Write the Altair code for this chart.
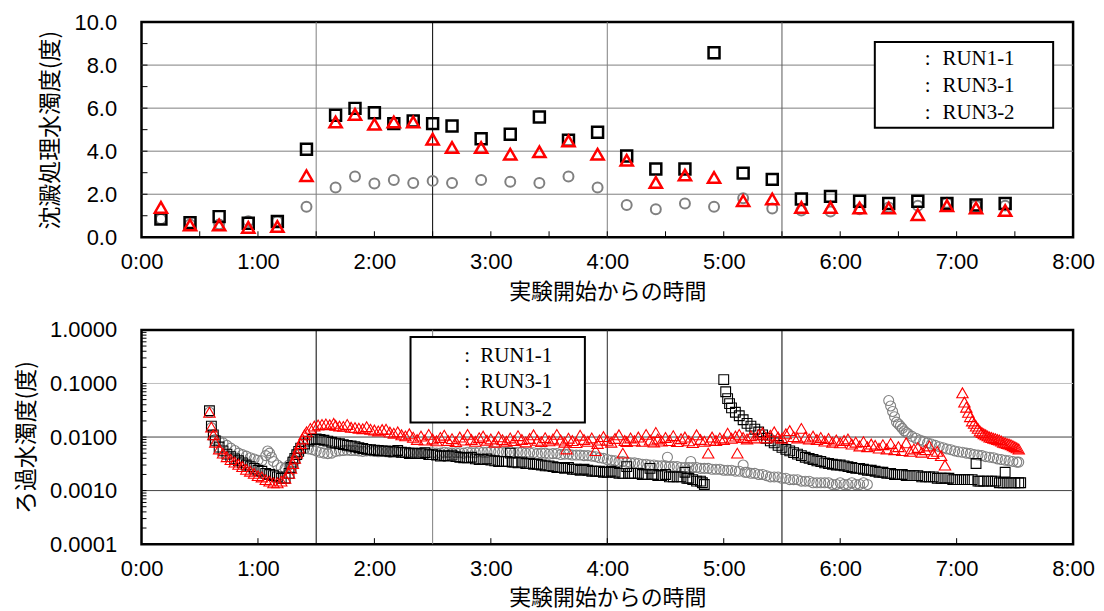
import altair as alt
import pandas as pd

# ---------------- text ----------------
series_names = ["RUN1-1", "RUN3-1", "RUN3-2"]
top_y_title = "沈澱処理水濁度(度)"
bot_y_title = "ろ過水濁度(度)"
x_title = "実験開始からの時間"
hour_ticks = [0, 60, 120, 180, 240, 300, 360, 420, 480]
hour_labels = ["0:00", "1:00", "2:00", "3:00", "4:00", "5:00", "6:00", "7:00", "8:00"]
top_y_ticks = [0, 2, 4, 6, 8, 10]
bot_y_ticks = [0.0001, 0.001, 0.01, 0.1, 1.0]

# ---------------- top chart data (minutes, turbidity) ----------------
top_time = [10, 25, 40, 55, 70, 85, 100, 110, 120, 130, 140, 150, 160, 175, 190, 205, 220, 235,
            250, 265, 280, 295, 310, 325, 340, 355, 370, 385, 400, 415, 430, 445]
top_run11 = [0.85, 0.68, 0.96, 0.65, 0.73, 4.09, 5.67, 5.99, 5.79, 5.28, 5.40, 5.28, 5.17, 4.58, 4.79, 5.59, 4.51, 4.88,
             3.78, 3.17, 3.17, 8.57, 2.98, 2.69, 1.78, 1.90, 1.67, 1.57, 1.67, 1.57, 1.50, 1.57]
top_run31 = [1.39, 0.57, 0.57, 0.46, 0.50, 2.86, 5.36, 5.71, 5.25, 5.36, 5.36, 4.56, 4.17, 4.17, 3.86, 3.97, 4.48, 3.86,
             3.58, 2.55, 2.89, 2.78, 1.70, 1.78, 1.39, 1.39, 1.36, 1.36, 1.05, 1.47, 1.36, 1.24]
top_run32 = [0.85, 0.60, 0.60, 0.75, 0.75, 1.42, 2.31, 2.82, 2.50, 2.66, 2.52, 2.62, 2.52, 2.66, 2.58, 2.52, 2.82, 2.31,
             1.50, 1.30, 1.57, 1.42, 1.81, 1.34, 1.24, 1.20, 1.30, 1.39, 1.47, 1.60, 1.47, 1.47]

# ---------------- bottom chart data (minute, turbidity) ----------------
bot_run11 = [
    (35, 0.031), (36, 0.016), (37, 0.011), (38, 0.0085), (40, 0.0065), (42, 0.0055), (44, 0.0048), (46, 0.0043),
    (48, 0.0039), (50, 0.0036), (52, 0.0033), (54, 0.0030), (56, 0.0028), (58, 0.0026), (60, 0.0024), (62, 0.0023),
    (64, 0.0021), (66, 0.0020), (68, 0.0019), (70, 0.0018), (72, 0.0017), (74, 0.0017), (76, 0.0021), (77, 0.0027),
    (78, 0.0034), (79, 0.0040), (80, 0.0047), (81, 0.0054), (82, 0.0062), (84, 0.0074), (86, 0.0084), (88, 0.0090),
    (90, 0.0092), (92, 0.0090), (94, 0.0087), (96, 0.0084), (98, 0.0080), (100, 0.0077), (102, 0.0075),
    (104, 0.0072), (106, 0.0070), (108, 0.0068), (110, 0.0066), (112, 0.0063), (114, 0.0061), (116, 0.0059),
    (118, 0.0058), (120, 0.0057), (122, 0.0056), (124, 0.0055), (126, 0.0055), (128, 0.0054), (130, 0.0053),
    (132, 0.0056), (134, 0.0052), (136, 0.0051), (138, 0.0049), (140, 0.0050), (142, 0.0049), (144, 0.0049),
    (146, 0.0051), (148, 0.0047), (150, 0.0047), (152, 0.0046), (154, 0.0044), (156, 0.0045), (158, 0.0044),
    (160, 0.0046), (162, 0.0043), (164, 0.0042), (166, 0.0041), (168, 0.0041), (170, 0.0042), (172, 0.0039),
    (174, 0.0038), (176, 0.0038), (178, 0.0039), (180, 0.0037), (182, 0.0036), (184, 0.0035), (186, 0.0035),
    (188, 0.0035), (190, 0.0050), (191, 0.0034), (192, 0.0034), (194, 0.0033), (196, 0.0034), (198, 0.0032),
    (200, 0.0032), (202, 0.0031), (204, 0.0031), (206, 0.0030), (208, 0.0029), (210, 0.0029), (212, 0.0028),
    (214, 0.0027), (216, 0.0027), (218, 0.0026), (220, 0.0027), (222, 0.0025), (224, 0.0025), (226, 0.0024),
    (228, 0.0025), (230, 0.0024), (232, 0.0023), (234, 0.0023), (236, 0.0023), (238, 0.0022), (240, 0.0022),
    (242, 0.0023), (244, 0.0022), (246, 0.0021), (248, 0.0021), (250, 0.0028), (251, 0.0021), (252, 0.0021),
    (254, 0.0021), (256, 0.0021), (258, 0.0020), (260, 0.0020), (262, 0.0026), (263, 0.0020), (264, 0.0020),
    (266, 0.0019), (268, 0.0019), (270, 0.0020), (272, 0.0018), (274, 0.0018), (276, 0.0018), (278, 0.0018),
    (280, 0.0022), (281, 0.0017), (282, 0.0017), (284, 0.0016), (286, 0.0015), (288, 0.0015), (289, 0.0014),
    (290, 0.0013),
    (300, 0.118), (301, 0.070), (302, 0.052), (303, 0.042), (304, 0.035), (306, 0.029), (308, 0.025), (310, 0.021),
    (312, 0.018), (314, 0.016), (316, 0.014), (318, 0.0124), (320, 0.011), (322, 0.0095), (324, 0.0085),
    (326, 0.0078), (328, 0.0070), (330, 0.0064), (332, 0.0059), (334, 0.0055), (336, 0.0051), (338, 0.0048),
    (340, 0.0045), (342, 0.0042), (344, 0.0040), (346, 0.0038), (348, 0.0036), (350, 0.0035), (352, 0.0033),
    (354, 0.0032), (356, 0.0031), (358, 0.0030), (360, 0.0030), (362, 0.0029), (364, 0.0028), (366, 0.0027),
    (368, 0.0026), (370, 0.0026), (372, 0.0025), (374, 0.0024), (376, 0.0024), (378, 0.0023), (380, 0.0022),
    (382, 0.0022), (384, 0.0021), (386, 0.0021), (388, 0.0020), (390, 0.0020), (392, 0.0020), (394, 0.0019),
    (396, 0.0019), (398, 0.0019), (400, 0.0019), (402, 0.0018), (404, 0.0018), (406, 0.0018), (408, 0.0018),
    (410, 0.0017), (412, 0.0017), (414, 0.0017), (416, 0.0017), (418, 0.0016), (420, 0.0016), (422, 0.0016),
    (424, 0.0016), (426, 0.0016), (428, 0.0016), (430, 0.0032), (431, 0.0015), (432, 0.0015), (434, 0.0015),
    (436, 0.0015), (438, 0.0015), (440, 0.0015), (442, 0.0014), (444, 0.0014), (445, 0.0022), (446, 0.0014),
    (448, 0.0014), (450, 0.0014), (452, 0.0014), (453, 0.0014),
]
bot_run31 = [
    (35, 0.029), (36, 0.0153), (37, 0.011), (38, 0.0080), (40, 0.0060), (42, 0.0050), (44, 0.0043), (46, 0.0038),
    (48, 0.0034), (50, 0.0031), (52, 0.0028), (54, 0.0025), (56, 0.0023), (58, 0.0021), (60, 0.0019), (62, 0.0018),
    (64, 0.0016), (66, 0.0015), (68, 0.0014), (70, 0.0014), (72, 0.0015), (74, 0.0017), (76, 0.0021), (77, 0.0026),
    (78, 0.0032), (79, 0.0040), (80, 0.0050), (81, 0.0062), (82, 0.0076), (83, 0.0092), (84, 0.0110), (85, 0.0125),
    (87, 0.0145), (89, 0.0160), (91, 0.0168), (93, 0.0172), (95, 0.0175), (97, 0.0170), (99, 0.0180),
    (100, 0.0165), (102, 0.0160), (104, 0.0158), (106, 0.0172), (108, 0.0152), (110, 0.0150), (112, 0.0146),
    (114, 0.0143), (116, 0.0156), (118, 0.0140), (120, 0.0135), (122, 0.0130), (124, 0.0138), (126, 0.0140),
    (128, 0.0124), (130, 0.0118), (132, 0.0125), (134, 0.0110), (136, 0.0105), (138, 0.0115), (140, 0.0099),
    (142, 0.0090), (144, 0.0104), (146, 0.0088), (148, 0.0112), (150, 0.0092), (152, 0.0085), (154, 0.0098),
    (156, 0.0108), (158, 0.0086), (160, 0.0093), (162, 0.0082), (164, 0.0100), (166, 0.0088), (168, 0.0112),
    (170, 0.0090), (172, 0.0083), (174, 0.0097), (176, 0.0104), (178, 0.0087), (180, 0.0092), (182, 0.0080),
    (184, 0.0101), (186, 0.0089), (188, 0.0083), (190, 0.0096), (192, 0.0086), (194, 0.0106), (196, 0.0090),
    (198, 0.0081), (200, 0.0094), (202, 0.0110), (204, 0.0087), (206, 0.0082), (208, 0.0097), (210, 0.0085),
    (212, 0.0092), (214, 0.0112), (216, 0.0088), (218, 0.0080), (219, 0.0060), (220, 0.0095), (222, 0.0086),
    (224, 0.0079), (226, 0.0108), (228, 0.0090), (230, 0.0083), (232, 0.0096), (234, 0.0056), (235, 0.0076),
    (236, 0.0088), (238, 0.0102), (240, 0.0087), (242, 0.0080), (244, 0.0094), (246, 0.0110), (248, 0.0050),
    (249, 0.0086), (250, 0.0082), (252, 0.0096), (254, 0.0085), (256, 0.0100), (258, 0.0083), (260, 0.0112),
    (262, 0.0088), (264, 0.0081), (265, 0.0122), (266, 0.0092), (268, 0.0084), (270, 0.0098), (272, 0.0086),
    (274, 0.0106), (276, 0.0082), (278, 0.0093), (280, 0.0100), (282, 0.0085), (284, 0.0079), (286, 0.0110),
    (288, 0.0090), (290, 0.0083), (292, 0.0050), (293, 0.0088), (294, 0.0100), (296, 0.0086), (298, 0.0096),
    (300, 0.0090), (302, 0.0118), (304, 0.0095), (306, 0.0104), (307, 0.0050), (308, 0.0112), (310, 0.0098),
    (312, 0.0092), (314, 0.0106), (316, 0.0096), (318, 0.0112), (320, 0.0120), (322, 0.0096), (324, 0.0108),
    (326, 0.0125), (328, 0.0100), (330, 0.0095), (332, 0.0115), (334, 0.0132), (336, 0.0102), (338, 0.0096),
    (340, 0.0145), (342, 0.0100), (344, 0.0092), (346, 0.0104), (348, 0.0090), (350, 0.0098), (352, 0.0084),
    (354, 0.0094), (356, 0.0080), (358, 0.0088), (360, 0.0078), (362, 0.0086), (364, 0.0092), (366, 0.0074),
    (368, 0.0080), (370, 0.0068), (372, 0.0082), (374, 0.0066), (376, 0.0074), (378, 0.0070), (380, 0.0062),
    (382, 0.0072), (384, 0.0060), (386, 0.0076), (388, 0.0058), (390, 0.0066), (392, 0.0056), (394, 0.0078),
    (396, 0.0054), (398, 0.0060), (400, 0.0064), (402, 0.0052), (404, 0.0058), (406, 0.0068), (408, 0.0049),
    (410, 0.0054), (412, 0.0045), (414, 0.0030),
    (423, 0.067), (424, 0.045), (425, 0.036), (426, 0.029), (427, 0.024), (428, 0.020), (429, 0.018), (430, 0.016),
    (431, 0.0145), (432, 0.013), (433, 0.0122), (434, 0.0115), (435, 0.011), (436, 0.0105), (437, 0.010),
    (438, 0.0098), (439, 0.0095), (440, 0.0093), (441, 0.0090), (442, 0.0088), (443, 0.0084), (444, 0.0080),
    (445, 0.0078), (446, 0.0076), (447, 0.0074), (448, 0.0072), (449, 0.0069), (450, 0.0066), (451, 0.0063),
    (452, 0.0060),
]
bot_run32 = [
    (35, 0.029), (36, 0.015), (37, 0.011), (38, 0.0090), (40, 0.0085), (42, 0.0078), (44, 0.0070), (46, 0.0062),
    (48, 0.0056), (50, 0.0050), (52, 0.0047), (54, 0.0044), (56, 0.0041), (58, 0.0039), (60, 0.0037), (62, 0.0036),
    (64, 0.0045), (65, 0.0055), (66, 0.0050), (67, 0.0042), (68, 0.0035), (70, 0.0030), (72, 0.0027), (74, 0.0026),
    (76, 0.0030), (78, 0.0038), (80, 0.0050), (82, 0.0058), (84, 0.0061), (86, 0.0060), (88, 0.0058), (90, 0.0055),
    (92, 0.0052), (94, 0.0050), (96, 0.0049), (98, 0.0050), (100, 0.0054), (102, 0.0055), (104, 0.0056),
    (106, 0.0057), (108, 0.0056), (110, 0.0056), (112, 0.0055), (114, 0.0054), (116, 0.0055), (118, 0.0055),
    (120, 0.0054), (122, 0.0053), (124, 0.0054), (126, 0.0053), (128, 0.0052), (130, 0.0053), (132, 0.0052),
    (134, 0.0052), (136, 0.0051), (138, 0.0052), (140, 0.0051), (142, 0.0050), (144, 0.0051), (146, 0.0051),
    (148, 0.0050), (150, 0.0051), (152, 0.0050), (154, 0.0050), (156, 0.0052), (158, 0.0051), (160, 0.0050),
    (162, 0.0051), (164, 0.0051), (166, 0.0050), (168, 0.0052), (170, 0.0051), (172, 0.0051), (174, 0.0053),
    (176, 0.0052), (178, 0.0052), (180, 0.0054), (182, 0.0053), (184, 0.0053), (186, 0.0052), (188, 0.0052),
    (190, 0.0053), (192, 0.0051), (194, 0.0052), (196, 0.0052), (198, 0.0050), (200, 0.0051), (202, 0.0051),
    (204, 0.0049), (206, 0.0050), (208, 0.0050), (210, 0.0048), (212, 0.0049), (214, 0.0049), (216, 0.0047),
    (218, 0.0048), (220, 0.0048), (222, 0.0046), (224, 0.0046), (226, 0.0046), (228, 0.0045), (230, 0.0045),
    (232, 0.0044), (234, 0.0043), (236, 0.0041), (238, 0.0040), (240, 0.0038), (242, 0.0037), (244, 0.0036),
    (246, 0.0035), (248, 0.0035), (250, 0.0034), (252, 0.0033), (254, 0.0033), (256, 0.0032), (258, 0.0031),
    (260, 0.0031), (262, 0.0030), (264, 0.0030), (266, 0.0029), (268, 0.0029), (270, 0.0029), (271, 0.0042),
    (272, 0.0028), (274, 0.0028), (276, 0.0028), (278, 0.0027), (280, 0.0027), (282, 0.0027), (283, 0.0035),
    (284, 0.0027), (286, 0.0027), (288, 0.0026), (290, 0.0026), (292, 0.0026), (294, 0.0025), (296, 0.0025),
    (298, 0.0025), (300, 0.0024), (302, 0.0024), (304, 0.0024), (306, 0.0023), (308, 0.0023), (310, 0.0030),
    (311, 0.0022), (312, 0.0022), (314, 0.0021), (316, 0.0021), (318, 0.0020), (320, 0.0020), (322, 0.0019),
    (324, 0.0018), (326, 0.0018), (328, 0.0018), (330, 0.0017), (332, 0.0017), (334, 0.0016), (336, 0.0016),
    (338, 0.0016), (340, 0.0015), (342, 0.0015), (344, 0.0015), (346, 0.0014), (348, 0.0014), (350, 0.0014),
    (352, 0.0014), (354, 0.0014), (356, 0.0013), (358, 0.0013), (360, 0.0014), (362, 0.0013), (364, 0.0013),
    (366, 0.0014), (368, 0.0013), (370, 0.0013), (372, 0.0014), (374, 0.0013),
    (385, 0.048), (386, 0.038), (387, 0.030), (388, 0.024), (389, 0.019), (390, 0.0175), (391, 0.016),
    (392, 0.0145), (393, 0.013), (394, 0.0122), (395, 0.0115), (397, 0.0103), (399, 0.0095), (401, 0.0088),
    (403, 0.0083), (405, 0.0078), (407, 0.0074), (409, 0.0070), (411, 0.0066), (413, 0.0063), (415, 0.0060),
    (417, 0.0058), (419, 0.0055), (421, 0.0053), (423, 0.0052), (425, 0.0050), (427, 0.0049), (429, 0.0047),
    (431, 0.0046), (433, 0.0045), (435, 0.0043), (437, 0.0042), (439, 0.0041), (441, 0.0039), (443, 0.0038),
    (445, 0.0037), (447, 0.0036), (449, 0.0035), (451, 0.0034), (452, 0.0034),
]

# reference lines
vline_times = [90, 150, 240, 330]
top_vline_colors = ["#808080", "#000000", "#808080", "#595959"]
bot_vline_colors = ["#000000", "#808080", "#262626", "#000000"]
top_hlines = [2, 4, 6, 8]
bot_hlines = [0.1, 0.01, 0.001]
bot_hline_colors = ["#bfbfbf", "#404040", "#404040"]

# ---------------- layout / style ----------------
W = 935
H_TOP = 216
H_BOT = 215
LABEL_FONT = "Liberation Sans"
JP_FONT = "Noto Sans CJK JP"
SERIF = "Liberation Serif"
GRAY = "#808080"
RED = "#ff0000"

label_expr = "[" + ",".join("'%s'" % s for s in hour_labels) + "][round(datum.value/60)]"

x_axis = alt.Axis(values=hour_ticks, labelExpr=label_expr, title=x_title, grid=False, ticks=False,
                  tickSize=0, domain=False, labelPadding=14, titlePadding=9, labelFlush=False)
x_scale = alt.Scale(domain=[0, 480], nice=False, zero=False)


def xenc():
    return alt.X("t:Q", scale=x_scale, axis=x_axis)


def panel(height, y_scale, y_axis, hline_df, vline_df, xtick_vals, ytick_vals, ytick_len,
          gray_df, black_df, red_df, sizes, sw, legend_box, legend_rows, colon_x, name_x):
    def yenc():
        return alt.Y("v:Q", scale=y_scale, axis=y_axis)

    layers = []
    layers.append(alt.Chart(hline_df).mark_rule(strokeWidth=1).encode(
        y=yenc(), color=alt.Color("c:N", scale=None)))
    layers.append(alt.Chart(vline_df).mark_rule(strokeWidth=1).encode(
        x=xenc(), color=alt.Color("c:N", scale=None)))
    layers.append(alt.Chart(pd.DataFrame({"t": xtick_vals})).mark_rule(color="black", strokeWidth=1).encode(
        x=xenc(), y=alt.value(height), y2=alt.value(height - 6)))
    layers.append(alt.Chart(pd.DataFrame({"v": ytick_vals})).mark_rule(color="black", strokeWidth=1).encode(
        y=yenc(), x=alt.value(0), x2=alt.value(ytick_len)))
    layers.append(alt.Chart(gray_df).mark_point(shape="circle", filled=False, size=sizes[2], strokeWidth=sw[2],
                                                color=GRAY, opacity=1).encode(x=xenc(), y=yenc()))
    layers.append(alt.Chart(black_df).mark_point(shape="square", filled=False, size=sizes[0], strokeWidth=sw[0],
                                                 color="black", opacity=1).encode(x=xenc(), y=yenc()))
    layers.append(alt.Chart(red_df).mark_point(shape="triangle-up", filled=False, size=sizes[1], strokeWidth=sw[1],
                                               color=RED, opacity=1).encode(x=xenc(), y=yenc()))
    one = pd.DataFrame({"a": [0]})
    bx0, bx1, by0, by1 = legend_box
    layers.append(alt.Chart(one).mark_rect(fill="white", stroke="black", strokeWidth=2).encode(
        x=alt.value(bx0), x2=alt.value(bx1), y=alt.value(by0), y2=alt.value(by1)))
    for name, ry in zip(series_names, legend_rows):
        layers.append(alt.Chart(one).mark_text(align="left", baseline="middle", font=SERIF, fontSize=21,
                                               color="black").encode(
            x=alt.value(colon_x), y=alt.value(ry), text=alt.value(":")))
        layers.append(alt.Chart(one).mark_text(align="left", baseline="middle", font=SERIF, fontSize=21,
                                               color="black").encode(
            x=alt.value(name_x), y=alt.value(ry), text=alt.value(name)))
    return alt.layer(*layers).properties(width=W, height=height)


def pairs_df(pairs):
    return pd.DataFrame({"t": [p[0] for p in pairs], "v": [p[1] for p in pairs]})


# top panel
top_y_axis = alt.Axis(values=top_y_ticks, format=".1f", title=top_y_title, grid=False, ticks=False, tickSize=0,
                      domain=False, labelPadding=25, titlePadding=11)
top = panel(
    H_TOP,
    alt.Scale(domain=[0, 10], nice=False, zero=False),
    top_y_axis,
    pd.DataFrame({"v": top_hlines, "c": [GRAY] * len(top_hlines)}),
    pd.DataFrame({"t": vline_times, "c": top_vline_colors}),
    list(range(30, 480, 30)),
    list(range(1, 10)),
    6,
    pd.DataFrame({"t": top_time, "v": top_run32}),
    pd.DataFrame({"t": top_time, "v": top_run11}),
    pd.DataFrame({"t": top_time, "v": top_run31}),
    [121, 150, 100], [2.5, 2.5, 2.0],
    (736, 915, 20, 106), [37, 64, 91], 786, 804,
)

# bottom panel
minor = []
for dec in [0.0001, 0.001, 0.01, 0.1]:
    for k in range(1, 10):
        minor.append(round(dec * k, 6))
bot_y_axis = alt.Axis(values=bot_y_ticks, format=".4f", title=bot_y_title, grid=False, ticks=False, tickSize=0,
                      domain=False, labelPadding=25, titlePadding=11)
bottom = panel(
    H_BOT,
    alt.Scale(type="log", domain=[0.0001, 1], nice=False),
    bot_y_axis,
    pd.DataFrame({"v": bot_hlines, "c": bot_hline_colors}),
    pd.DataFrame({"t": vline_times, "c": bot_vline_colors}),
    list(range(60, 480, 60)),
    minor,
    5,
    pairs_df(bot_run32),
    pairs_df(bot_run11),
    pairs_df(bot_run31),
    [96, 130, 100], [1.1, 1.1, 1.1],
    (270, 445, 7, 93), [26, 52, 80], 324, 340,
)

chart = alt.vconcat(top, bottom, spacing=13).properties(
    padding={"left": 6, "top": 0, "right": 0, "bottom": 0}
).configure_view(
    stroke="black", strokeWidth=2.5
).configure_axis(
    labelFont=LABEL_FONT, labelFontSize=22, labelColor="black",
    titleFont=JP_FONT, titleFontSize=22, titleFontWeight="normal", titleColor="black"
).configure_axisY(
    titleFontSize=23
)

chart.save("out.html", embed_options={"renderer": "svg", "actions": False})
